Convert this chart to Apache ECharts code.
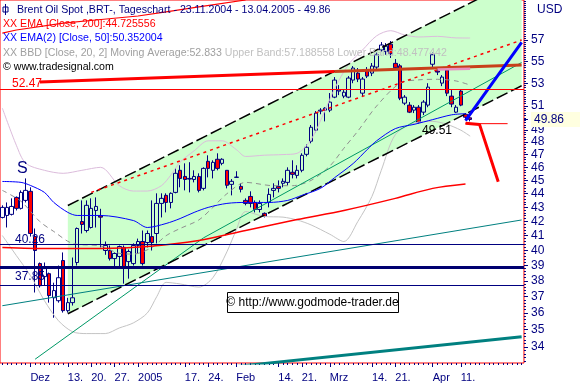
<!DOCTYPE html>
<html><head><meta charset="utf-8">
<script src="https://cdn.jsdelivr.net/npm/echarts@6/dist/echarts.min.js"></script>
<style>html,body{margin:0;padding:0;background:#fff}#c{width:583px;height:387px}</style>
</head><body><div id="c"></div>
<script>
// ---------- data ----------
const dates = ['2004-11-23','2004-11-24','2004-11-25','2004-11-26','2004-11-29','2004-11-30',
'2004-12-01','2004-12-02','2004-12-03','2004-12-06','2004-12-07','2004-12-08','2004-12-09','2004-12-10','2004-12-13','2004-12-14','2004-12-15','2004-12-16','2004-12-17','2004-12-20','2004-12-21','2004-12-22','2004-12-23','2004-12-24','2004-12-27','2004-12-28','2004-12-29','2004-12-30','2004-12-31',
'2005-01-03','2005-01-04','2005-01-05','2005-01-06','2005-01-07','2005-01-10','2005-01-11','2005-01-12','2005-01-13','2005-01-14','2005-01-17','2005-01-18','2005-01-19','2005-01-20','2005-01-21','2005-01-24','2005-01-25','2005-01-26','2005-01-27','2005-01-28','2005-01-31',
'2005-02-01','2005-02-02','2005-02-03','2005-02-04','2005-02-07','2005-02-08','2005-02-09','2005-02-10','2005-02-11','2005-02-14','2005-02-15','2005-02-16','2005-02-17','2005-02-18','2005-02-21','2005-02-22','2005-02-23','2005-02-24','2005-02-25','2005-02-28',
'2005-03-01','2005-03-02','2005-03-03','2005-03-04','2005-03-07','2005-03-08','2005-03-09','2005-03-10','2005-03-11','2005-03-14','2005-03-15','2005-03-16','2005-03-17','2005-03-18','2005-03-21','2005-03-22','2005-03-23','2005-03-24','2005-03-28','2005-03-29','2005-03-30','2005-03-31',
'2005-04-01','2005-04-04','2005-04-05','2005-04-06','2005-04-07','2005-04-08','2005-04-11','2005-04-12','2005-04-13'];
const futureDates = ['2005-04-14','2005-04-15','2005-04-18','2005-04-19','2005-04-20','2005-04-21','2005-04-22','2005-04-25','2005-04-26','2005-04-27','2005-04-28'];

const opens  = [42.28,42.42,42.50,43.73,42.93,43.51,44.18,40.94,39.12,38.27,38.46,36.93,36.75,39.32,36.14,36.63,39.19,41.99,41.36,41.57,42.78,42.40,39.99,39.99,39.45,39.59,40.20,39.25,39.12,40.33,40.60,40.53,40.94,41.15,43.29,43.88,43.36,44.10,45.77,45.30,45.15,45.07,45.30,44.40,46.47,45.77,46.63,46.31,45.77,44.70,45.23,44.55,43.51,43.80,43.36,42.85,42.57,43.36,44.25,44.55,44.78,44.85,45.62,45.38,45.77,47.02,48.07,48.97,50.57,50.65,50.65,51.77,52.30,51.86,51.77,53.28,53.91,52.12,54.19,53.91,54.46,56.05,55.90,56.60,54.80,54.57,51.25,51.08,50.65,50.90,50.48,51.08,54.72,54.10,53.01,54.19,51.86,50.48,52.30,50.30,50.00];
const highs  = [43.15,43.36,43.66,43.80,44.25,45.15,44.48,41.50,39.19,39.19,38.53,37.88,38.99,39.86,36.93,39.52,41.57,43.51,43.51,43.66,43.73,42.90,40.60,40.33,39.86,40.33,40.33,40.06,40.47,40.80,41.36,41.36,43.51,44.03,44.03,44.03,44.10,45.92,46.16,46.31,46.40,45.77,45.54,46.00,46.94,46.55,47.10,46.71,45.77,45.10,45.70,44.78,43.66,44.18,43.51,43.51,42.64,44.40,44.78,45.00,45.15,46.00,46.55,46.16,47.10,47.80,49.40,50.57,50.82,50.90,52.13,53.55,52.83,52.39,53.64,54.55,54.37,53.55,54.46,54.83,55.80,56.80,56.70,56.90,55.20,54.75,51.95,51.34,51.08,51.08,51.51,53.00,55.80,54.46,53.73,54.37,52.39,51.08,52.48,50.40,50.10];
const lows   = [42.21,41.57,42.42,42.78,42.85,43.36,40.94,37.26,37.57,37.69,36.63,35.71,36.63,36.02,36.02,36.45,38.99,41.15,41.22,41.50,41.57,40.20,39.70,39.32,38.79,38.86,37.82,38.14,38.99,39.79,38.99,40.20,39.99,40.47,42.28,42.64,42.93,44.03,44.48,44.25,44.10,44.85,44.10,44.25,45.23,45.15,45.77,46.16,44.40,43.88,45.20,44.10,43.15,43.00,42.64,42.64,42.28,43.00,43.73,44.10,44.48,44.63,45.15,45.15,45.62,46.86,47.90,48.80,50.30,49.70,50.48,51.68,51.95,51.68,51.68,53.00,53.10,51.86,53.46,53.64,54.19,55.90,55.60,55.30,54.20,51.51,51.08,50.40,50.40,49.51,50.23,50.90,54.46,53.73,52.74,51.86,50.90,50.40,50.99,49.80,49.70];
const closes = [43.00,43.00,43.07,42.93,44.10,44.25,41.15,39.99,37.69,38.79,37.07,37.38,38.20,36.14,36.63,36.93,41.50,41.78,43.15,42.93,43.07,42.30,40.33,39.45,39.79,40.26,38.86,39.92,40.33,40.60,39.12,41.15,40.53,43.29,43.66,43.36,44.03,45.54,45.15,45.07,45.10,45.30,44.25,45.92,45.92,46.39,45.92,46.63,44.63,44.93,45.25,44.33,43.29,43.29,42.85,43.29,42.35,43.95,44.40,44.40,44.93,45.77,45.46,45.77,46.94,47.58,49.21,50.40,50.65,50.82,51.34,53.28,52.39,52.20,53.46,54.37,53.37,53.37,53.64,54.55,55.60,56.52,56.40,55.70,54.40,51.68,51.77,50.48,50.90,49.63,51.34,52.65,55.60,54.00,53.55,52.12,51.17,50.90,51.08,50.05,49.86];

const xLabelDates = ['2004-12-01','2004-12-13','2004-12-20','2004-12-27','2005-01-03','2005-01-17','2005-01-24','2005-02-01','2005-02-14','2005-02-21','2005-03-01','2005-03-14','2005-03-21','2005-04-01','2005-04-11'];
const xLabelTexts = ['Dez','13.','20.','27.','2005','17.','24.','Feb','14.','21.','Mrz','14.','21.','Apr','11.'];
const yLabels = [34,35,36,37,38,39,40,41,42,43,44,45,46,47,48,49,51,53,55,57];
const lastPrice = 49.86;

// indicators (index on the date axis, value)
const ema200Idx = [0,10,21,31,42,52,63,73,84,92,99];
const ema200    = [40.20,40.13,40.13,40.26,40.67,41.36,42.13,42.78,43.66,44.40,44.73];
const ema50Idx  = [0,4,6,9,11,14,16,21,28,31,35,38,41,44,48,52,57,61,64,68,71,75,78,80,84,88,92,96,99];
const ema50     = [44.92,44.85,44.62,44.10,43.36,42.64,42.42,42.42,42.06,41.57,41.85,42.20,42.64,43.00,43.29,43.36,43.36,43.51,43.88,44.40,45.20,46.30,47.40,48.10,49.10,49.45,49.85,50.25,50.35];
const bbUpIdx   = [0,3,5,9,13,17,21,25,28,31,34,36,38,41,44,47,50,52,56,60,63,66,69,71,74,77,80,83,86,89,93,97,100];
const bbUp      = [50.82,47.74,46.32,45.77,45.54,45.77,46.00,44.60,44.20,44.20,44.60,45.40,46.40,47.30,48.10,48.10,47.40,46.85,46.95,47.00,47.10,48.20,50.65,52.50,54.70,56.05,57.40,57.90,57.48,57.29,57.35,57.20,57.19];
const bbMidIdx  = [0,4,8,11,15,21,25,28,32,35,38,42,45,48,52,58,62,66,70,73,76,80,85,89,93,97,100];
const bbMid     = [44.25,43.44,41.99,41.29,40.47,40.30,39.80,39.75,40.20,41.00,41.50,42.10,43.00,44.00,44.85,44.60,44.60,45.00,46.10,47.50,48.90,51.00,53.00,53.30,53.35,53.20,52.83];
const bbLowIdx  = [0,3,6,9,12,15,18,22,25,28,31,33,35,38,42,45,48,50,52,56,60,63,66,70,73,76,79,81,84,88,92,95,98,100];
const bbLow     = [41.01,39.65,38.34,36.75,35.53,34.88,34.77,34.77,35.10,35.40,36.00,37.00,37.90,37.80,37.60,38.20,39.90,41.40,42.70,42.35,42.30,42.10,41.75,41.10,40.60,42.00,43.80,45.77,48.60,49.55,49.70,49.46,48.97,48.48];

// drawn trend lines and levels
const chanIdx = [14,111];   const chanUpper = [43.14,63.37]; const chanLower = [35.95,52.77];
const redDotIdx = [19,111]; const redDot = [44.10,57.00];
const tealIdx = [0,111];    const teal = [36.44,42.10];
const greenIdx = [7,43,111]; const green = [33.30,40.85,54.88];
const resistIdx = [8,71,111]; const resist = [53.10,54.05,54.65];
const pinkIdx = [93,100];   const pink = [54.24,54.30];
const tealBotIdx = [50,111];  const tealBot = [32.90,34.59];
const projUpIdx = [99,106,111]; const projUp = [49.76,53.75,56.78];
const projDnIdx = [99,102,106]; const projDn = [49.55,49.45,44.90];
const topRedIdx = [0,3,13,20,29,35,42,52]; const topRed = [57.67,57.97,58.65,58.95,59.35,59.76,60.27,60.97];
const lowLevelIdx = [99,108]; const lowLevel = 49.51;
const navyLevels = [40.26,37.85]; const navyThick = 39.0; const redLevel = 52.47;
const yMinP = 33.09, yMaxP = 60.97;

// ---------- build ----------
const L = Math.log;
const cats = dates.concat(futureDates);
const labelMap = {}; xLabelDates.forEach((d,i)=>labelMap[d]=xLabelTexts[i]);
const pairs = (idx, vals) => idx.map((i,k)=>[i, L(vals[k])]);
const candle = dates.map((d,i)=>[L(opens[i]),L(closes[i]),L(lows[i]),L(highs[i])]);
const minorTicks = []; for (let v=33.2; v<60.9; v+=0.2) minorTicks.push(L(v));
const NAVY = '#000080';
const FONT = '"Liberation Sans", Arial, sans-serif';

function line(data, color, width, type, extra) {
  return Object.assign({type:'line', data, symbol:'none', silent:true, animation:false,
    lineStyle:{color, width, type: type||'solid'}}, extra||{});
}

const series = [
  { type:'custom', silent:true, animation:false, clip:true, data:[[0,0]],
    renderItem:(params, api)=>{
      const p = [api.coord([chanIdx[0],L(chanLower[0])]), api.coord([chanIdx[1],L(chanLower[1])]),
                 api.coord([chanIdx[1],L(chanUpper[1])]), api.coord([chanIdx[0],L(chanUpper[0])])];
      return {type:'polygon', shape:{points:p}, style:{fill:'#ccffcc'}};
    }, z:1 },
  line(pairs(bbUpIdx,bbUp), '#dcbcdc', 1, 'solid', {smooth:0.3}),
  line(pairs(bbLowIdx,bbLow), '#c4c4c4', 1, 'solid', {smooth:0.3}),
  line(pairs(bbMidIdx,bbMid), '#909090', 1, [5,4], {smooth:0.3}),
  line([], '#000', 1, 'solid', { markLine:{ silent:true, symbol:'none', animation:false, label:{show:false},
    data:[
      {yAxis:L(navyLevels[0]), lineStyle:{color:NAVY,width:1,type:'solid'}},
      {yAxis:L(navyLevels[1]), lineStyle:{color:NAVY,width:1,type:'solid'}},
      {yAxis:L(navyThick), lineStyle:{color:'#000070',width:3,type:'solid'}},
      {yAxis:L(redLevel), lineStyle:{color:'#ff0000',width:1,type:'solid'}}
    ]}}),
  line(pairs(tealIdx,teal), '#008080', 1),
  line(pairs(greenIdx,green), '#009966', 1),
  line(pairs(tealBotIdx,tealBot), '#008080', 3),
  line(pairs(chanIdx,chanUpper), '#000000', 1.5, [12,4]),
  line(pairs(chanIdx,chanLower), '#000000', 1.5, [12,4]),
  line(pairs(redDotIdx,redDot), '#ff0000', 1.5, [3,4]),
  line(pairs(resistIdx.slice(0,2),resist.slice(0,2)), '#ff0000', 3),
  line(pairs(resistIdx.slice(1),resist.slice(1)), '#c8401a', 3),
  line(pairs(pinkIdx,pink), '#e890c0', 2.5),
  line(pairs(topRedIdx,topRed), '#ff0000', 1.2),
  line(pairs(ema200Idx,ema200), '#ff0000', 1.5, 'solid', {smooth:0.3}),
  line(pairs(ema50Idx,ema50), '#0000ff', 1, 'solid', {smooth:0.3}),
  { type:'candlestick', data:candle, barWidth:4, silent:true, animation:false,
    itemStyle:{color:'rgba(0,0,0,0)', color0:'#ff0000', borderColor:NAVY, borderColor0:NAVY, borderColorDoji:NAVY, borderWidth:1}},
  line(lowLevelIdx.map(i=>[i,L(lowLevel)]), '#ff0000', 1),
  line(pairs(projDnIdx,projDn), '#ff0000', 3),
  line(pairs(projUpIdx,projUp), '#0000ff', 3, 'solid', {
    symbol:'rect', symbolSize:6, showSymbol:true, itemStyle:{color:'#0000ff'},
    data: pairs(projUpIdx,projUp).map((p,k)=> k<2 ? p : {value:p, symbol:'none'}) })
];

const txt = (x,y,text,color,size,extra)=>({type:'text', x, y, z:100, silent:true,
  style:Object.assign({text, fill:color, font:(size||10.6)+'px '+FONT, verticalAlign:'middle'}, extra||{})});

const chart = echarts.init(document.getElementById('c'), null, {renderer:'canvas'});
chart.setOption({
  animation:false,
  backgroundColor:'#ffffff',
  grid:{left:0, top:0, width:530, height:363, show:true, borderColor:'#ff0000', borderWidth:1},
  xAxis:[
    {type:'category', data:cats, boundaryGap:true,
     axisLine:{show:false}, splitLine:{show:false},
     axisTick:{show:true, alignWithLabel:true, interval:0, length:2, lineStyle:{color:NAVY}},
     axisLabel:{interval:(i,v)=>labelMap[v]!==undefined, formatter:(v)=>labelMap[v]||'', align:'left',
       color:NAVY, fontSize:11, fontFamily:'Liberation Sans', margin:9}},
    {type:'category', data:cats, boundaryGap:true, position:'bottom',
     axisLine:{show:false}, splitLine:{show:false}, axisLabel:{show:false},
     axisTick:{show:true, alignWithLabel:true, interval:(i,v)=>labelMap[v]!==undefined, length:4, lineStyle:{color:NAVY}}}
  ],
  yAxis:[
    {type:'value', position:'right', min:L(yMinP), max:L(yMaxP), scale:true,
     axisLine:{show:false}, splitLine:{show:false},
     axisTick:{show:true, customValues:minorTicks, length:2, lineStyle:{color:NAVY}},
     axisLabel:{customValues:yLabels.map(L).concat([L(lastPrice)]), margin:7, color:NAVY, fontSize:12, fontFamily:'Liberation Sans',
       formatter:(v)=>{const p=Math.exp(v); if(Math.abs(p-lastPrice)<0.005) return '{hl|'+lastPrice.toFixed(2)+'}'; return String(Math.round(p));},
       rich:{hl:{backgroundColor:'#ffffe0', color:NAVY, fontSize:12, fontFamily:'Liberation Sans', padding:[2,16,1,3]}}}},
    {type:'value', position:'right', min:L(yMinP), max:L(yMaxP),
     axisLine:{show:false}, splitLine:{show:false}, axisLabel:{show:false},
     axisTick:{show:true, customValues:yLabels.map(L).concat([L(lastPrice)]), length:4, lineStyle:{color:NAVY}}}
  ],
  series,
  graphic:[
    {type:'rect', z:100, shape:{x:3,y:7,width:5,height:5}, style:{fill:'none', stroke:NAVY, lineWidth:1}, silent:true},
    {type:'line', z:100, shape:{x1:5.5,y1:4,x2:5.5,y2:15}, style:{stroke:NAVY, lineWidth:1}, silent:true},
    txt(17,10,'Brent Oil Spot ,BRT-, Tageschart - 23.11.2004 - 13.04.2005 - 49.86',NAVY),
    txt(3,24,'XX EMA [Close, 200]:44.725556','#ff0000'),
    txt(3,38,'XX EMA(2) [Close, 50]:50.352004','#0000ff'),
    {type:'text', x:3, y:53, z:100, silent:true, style:{text:'{a|XX BBD [Close, 20, 2] Moving Average:52.833 }{b|Upper Band:57.188558 Lower Band:48.477442}',
      verticalAlign:'middle', rich:{a:{fill:'#a0a0a0', font:'10.6px '+FONT}, b:{fill:'#c0c0c0', font:'10.6px '+FONT}}}},
    txt(3,67,'© www.tradesignal.com','#000000'),
    txt(537,10,'USD',NAVY,12),
    txt(17,169,'S',NAVY,16),
    txt(15,240,'40.26',NAVY,12),
    txt(15,277,'37.85',NAVY,12),
    txt(12,84,'52.47','#ff0000',12),
    txt(422,131,'49.51','#000000',12),
    {type:'rect', shape:{x:227.5,y:292.5,width:171,height:20}, style:{fill:'#ffffff', stroke:'#000000', lineWidth:1}, silent:true, z:100},
    {type:'text', x:312.5, y:302.5, z:101, silent:true, style:{text:'© http://www.godmode-trader.de', fill:'#000000', font:'12px '+FONT, align:'center', verticalAlign:'middle'}}
  ]
});
</script></body></html>
